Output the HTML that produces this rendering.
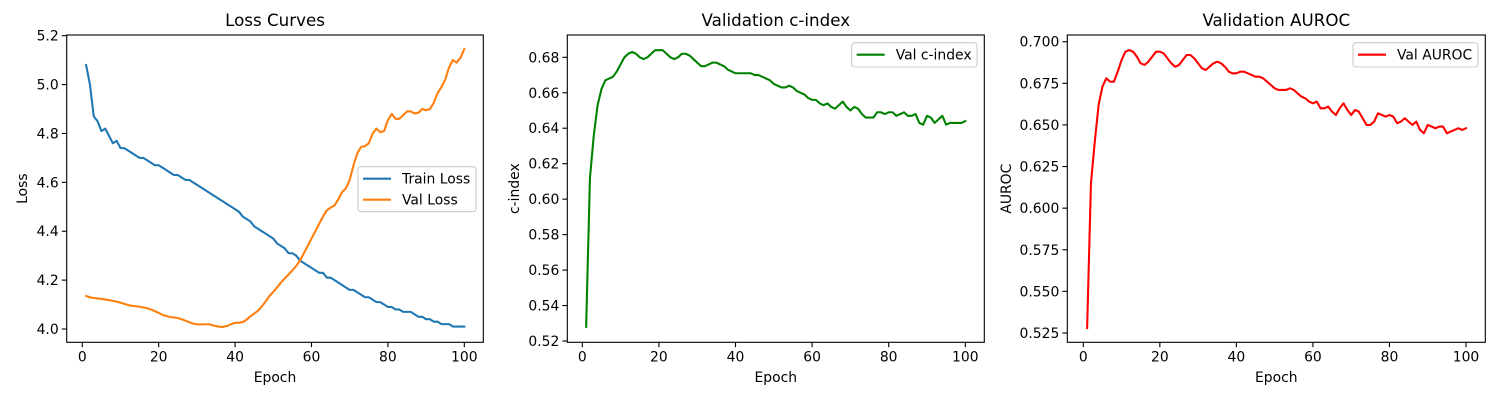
<!DOCTYPE html>
<html><head><meta charset="utf-8"><style>
html,body{margin:0;padding:0;background:#fff;}
svg{display:block;font-family:"DejaVu Sans","Liberation Sans",sans-serif;}
</style></head><body>
<svg id="fig" width="1500" height="400" viewBox="0 0 1500 400" xmlns="http://www.w3.org/2000/svg"></svg>
<script>
const epochs = Array.from({length:100},(_,i)=>i+1);
const trainLoss = [5.08,5.00,4.87,4.85,4.81,4.82,4.79,4.76,4.77,4.74,
4.74,4.73,4.72,4.71,4.70,4.70,4.69,4.68,4.67,4.67,
4.66,4.65,4.64,4.63,4.63,4.62,4.61,4.61,4.60,4.59,
4.58,4.57,4.56,4.55,4.54,4.53,4.52,4.51,4.50,4.49,
4.48,4.46,4.45,4.44,4.42,4.41,4.40,4.39,4.38,4.37,
4.35,4.34,4.33,4.31,4.31,4.30,4.28,4.27,4.26,4.25,
4.24,4.23,4.23,4.21,4.21,4.20,4.19,4.18,4.17,4.16,
4.16,4.15,4.14,4.13,4.13,4.12,4.11,4.11,4.10,4.09,
4.09,4.08,4.08,4.07,4.07,4.07,4.06,4.05,4.05,4.04,
4.04,4.03,4.03,4.02,4.02,4.02,4.01,4.01,4.01,4.01];
const valLoss = [4.135,4.13,4.127,4.125,4.123,4.121,4.118,4.115,4.112,4.108,
4.103,4.098,4.095,4.093,4.091,4.088,4.085,4.08,4.073,4.066,
4.058,4.053,4.049,4.047,4.045,4.04,4.034,4.028,4.022,4.019,
4.019,4.019,4.02,4.016,4.012,4.009,4.009,4.013,4.02,4.025,
4.026,4.028,4.038,4.052,4.063,4.075,4.092,4.113,4.135,4.152,
4.17,4.19,4.207,4.223,4.24,4.258,4.28,4.31,4.34,4.37,
4.40,4.43,4.46,4.485,4.497,4.505,4.53,4.56,4.575,4.61,
4.67,4.72,4.745,4.748,4.76,4.80,4.82,4.805,4.81,4.855,
4.88,4.86,4.86,4.875,4.89,4.89,4.882,4.885,4.90,4.895,
4.90,4.925,4.965,4.99,5.02,5.07,5.10,5.09,5.11,5.145];
const valCindex = [0.528,0.612,0.636,0.653,0.662,0.667,0.668,0.669,0.672,0.676,
0.680,0.682,0.683,0.682,0.680,0.679,0.680,0.682,0.684,0.684,
0.684,0.682,0.680,0.679,0.680,0.682,0.682,0.681,0.679,0.677,
0.675,0.675,0.676,0.677,0.677,0.676,0.675,0.673,0.672,0.671,
0.671,0.671,0.671,0.671,0.670,0.670,0.669,0.668,0.667,0.665,
0.664,0.663,0.663,0.664,0.663,0.661,0.660,0.659,0.657,0.656,
0.656,0.654,0.653,0.654,0.652,0.651,0.653,0.655,0.652,0.650,
0.652,0.651,0.648,0.646,0.646,0.646,0.649,0.649,0.648,0.649,
0.649,0.647,0.648,0.649,0.647,0.647,0.648,0.643,0.642,0.647,
0.646,0.643,0.645,0.647,0.642,0.643,0.643,0.643,0.643,0.644];
const valAuroc = [0.528,0.615,0.640,0.662,0.673,0.678,0.676,0.676,0.682,0.689,
0.694,0.695,0.694,0.691,0.687,0.686,0.688,0.691,0.694,0.694,
0.693,0.690,0.687,0.685,0.686,0.689,0.692,0.692,0.690,0.687,
0.684,0.683,0.685,0.687,0.688,0.687,0.685,0.682,0.681,0.681,
0.682,0.682,0.681,0.680,0.679,0.679,0.678,0.676,0.674,0.672,
0.671,0.671,0.671,0.672,0.671,0.669,0.667,0.666,0.664,0.663,
0.664,0.660,0.660,0.661,0.658,0.656,0.660,0.663,0.659,0.656,
0.659,0.658,0.654,0.650,0.650,0.652,0.657,0.656,0.655,0.656,
0.655,0.651,0.652,0.654,0.652,0.650,0.652,0.647,0.645,0.650,
0.649,0.648,0.649,0.649,0.645,0.646,0.647,0.648,0.647,0.648];
const xTicks = [0,20,40,60,80,100];
const lossTicks = [4.0,4.2,4.4,4.6,4.8,5.0,5.2];
const cTicks = [0.52,0.54,0.56,0.58,0.60,0.62,0.64,0.66,0.68];
const aTicks = [0.525,0.550,0.575,0.600,0.625,0.650,0.675,0.700];

const NS="http://www.w3.org/2000/svg";
const svg=document.getElementById('fig');
function mk(tag,attrs,parent){const e=document.createElementNS(NS,tag);for(const k in attrs)e.setAttribute(k,attrs[k]);(parent||svg).appendChild(e);return e;}

const panels=[
 {name:'loss',box:[66.7,35,483.3,342.3],x0:82.3,x100:464.3,y:[4.0,329,5.2,35.7],ticks:lossTicks,dec:1,title:'Loss Curves',ylabel:'Loss',ylx:22,
  series:[{name:'train-loss',label:'Train Loss',data:trainLoss,color:'#1f77b4'},{name:'val-loss',label:'Val Loss',data:valLoss,color:'#ff7f0e'}],
  legend:[358,166.7,476,211.7]},
 {name:'cindex',box:[567.3,35,984.3,342.3],x0:582.3,x100:965.3,y:[0.52,341,0.68,57.3],ticks:cTicks,dec:2,title:'Validation c-index',ylabel:'c-index',ylx:514,
  series:[{name:'val-cindex',label:'Val c-index',data:valCindex,color:'#008000'}],legend:[851.7,42.7,977,67]},
 {name:'auroc',box:[1067.3,35,1485.3,342.3],x0:1083.3,x100:1466,y:[0.525,333,0.700,41.7],ticks:aTicks,dec:3,title:'Validation AUROC',ylabel:'AUROC',ylx:1006,
  series:[{name:'val-auroc',label:'Val AUROC',data:valAuroc,color:'#ff0000'}],legend:[1353,42.7,1478,67]}
];

panels.forEach(p=>{
 const g=mk('g',{});
 
 
 const sx=v=>p.x0+(v-0)*(p.x100-p.x0)/100;
 const sy=v=>p.y[1]+(v-p.y[0])*(p.y[3]-p.y[1])/(p.y[2]-p.y[0]);
 const [l,t,r,b]=p.box;
 const cx=(l+r)/2;
 const title=mk('text',{x:cx,y:26,'text-anchor':'middle','font-size':'16.7',fill:'#000'},g);
 title.textContent=p.title;
 
 
 xTicks.forEach(v=>{
  const x=sx(v);
  mk('line',{x1:x,x2:x,y1:b,y2:b+4.9,stroke:'#000','stroke-width':1.1},g);
  const tx=mk('text',{x:x,y:b+19,'text-anchor':'middle','font-size':'13.9'},g);
  tx.textContent=String(v);
  
  
 });
 p.ticks.forEach(v=>{
  const y=sy(v);
  mk('line',{x1:l-4.9,x2:l,y1:y,y2:y,stroke:'#000','stroke-width':1.1},g);
  const ty=mk('text',{x:l-8,y:y+5,'text-anchor':'end','font-size':'13.9'},g);
  ty.textContent=v.toFixed(p.dec);
  
  
 });
 const xl=mk('text',{x:cx,y:382,'text-anchor':'middle','font-size':'13.9'},g);
 xl.textContent='Epoch';
 
 
 const yl=mk('text',{x:0,y:0,'text-anchor':'middle','font-size':'13.9',transform:`translate(${p.ylx+5},${(t+b)/2}) rotate(-90)`},g);
 yl.textContent=p.ylabel;
 
 
 p.series.forEach(s=>{
  const pts=s.data.map((v,i)=>sx(epochs[i]).toFixed(2)+','+sy(v).toFixed(2)).join(' ');
  const pl=mk('polyline',{points:pts,fill:'none',stroke:s.color,'stroke-width':2.08,'stroke-linejoin':'round','stroke-linecap':'square'},g);
  
  
 });
 mk('rect',{x:l,y:t,width:r-l,height:b-t,fill:'none',stroke:'#000','stroke-width':1.1},g);
 const [lx1,ly1,lx2,ly2]=p.legend;
 const lg=mk('g',{},g);
 
 
 mk('rect',{x:lx1,y:ly1,width:lx2-lx1,height:ly2-ly1,rx:3,fill:'#fff','fill-opacity':0.8,stroke:'#ccc','stroke-width':1.1},lg);
 p.series.forEach((s,i)=>{
  const yy=ly1+12+i*21;
  mk('line',{x1:lx1+5,x2:lx1+33,y1:yy,y2:yy,stroke:s.color,'stroke-width':2.08},lg);
  const lt=mk('text',{x:lx1+44,y:yy+5,'font-size':'13.9'},lg);
  lt.textContent=s.label;
  
  
 });
});
</script>
</body></html>
